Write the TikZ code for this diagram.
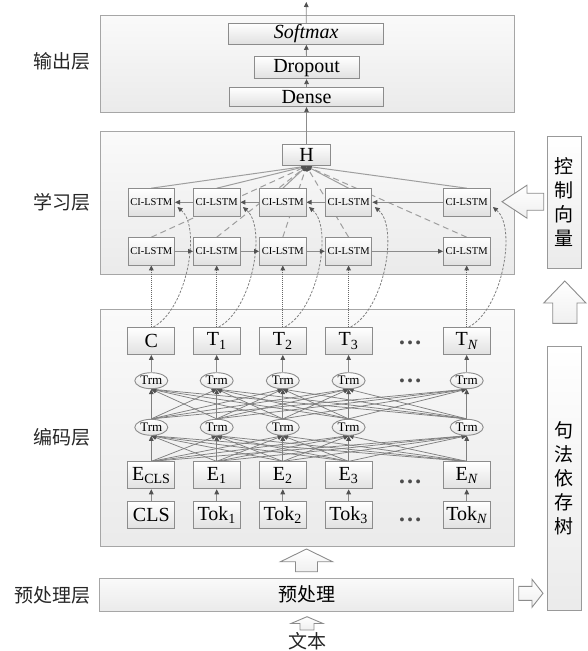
\documentclass[tikz,border=0pt]{standalone}
\usepackage{fontspec}
\setmainfont{Liberation Serif}
\newfontfamily\cjk{Noto Sans CJK SC}
\usetikzlibrary{shapes.geometric,arrows.meta}
\pgfdeclarelayer{bg}
\pgfdeclarelayer{mid}
\pgfsetlayers{bg,mid,main}
\tikzset{
  layerbox/.style={draw=black!35, line width=1pt, top color=black!2, bottom color=black!8, inner sep=0pt},
  sidebox/.style={draw=black!40, line width=1pt, top color=white, bottom color=black!8, inner sep=0pt,
     align=center, font=\cjk\fontsize{19}{24}\selectfont},
  blk/.style={draw=black!45, line width=0.9pt, top color=white, bottom color=black!12, inner sep=0pt,
     font=\fontsize{20}{20}\selectfont},
  colbox/.style={blk, minimum width=47pt, minimum height=27pt},
  lstm/.style={blk, minimum width=46.5pt, minimum height=27.3pt, font=\fontsize{10.5}{11}\selectfont},
  trm/.style={ellipse, draw=black!45, line width=0.9pt, top color=white, bottom color=black!10,
     minimum width=33pt, minimum height=16pt, inner sep=0pt, font=\fontsize{13}{13}\selectfont},
  cjklabel/.style={font=\cjk\fontsize{19}{19}\selectfont, text=black!85, inner sep=0pt},
  dotsnode/.style={anchor=base, inner sep=0pt, font=\fontsize{24}{24}\selectfont\bfseries, text=black!70},
  tipc/.tip={Triangle[length=5pt,width=4.6pt,color=black!68]},
  arr/.style={draw=black!45, line width=0.9pt, -tipc},
  conn/.style={draw=black!50, line width=0.75pt, -tipc},
  dotarr/.style={draw=black!60, line width=1pt, dash pattern=on 1pt off 1pt, -tipc},
  curv/.style={draw=black!50, line width=0.8pt, dash pattern=on 2.5pt off 1.5pt, -tipc},
  hsolid/.style={draw=black!38, line width=1pt, -tipc},
  hdash/.style={draw=black!38, line width=1pt, dash pattern=on 6pt off 4pt, -tipc},
  blockarrow/.style={draw=black!45, line width=0.9pt, top color=white, bottom color=black!6, line join=miter},
}
\begin{document}
\begin{tikzpicture}[x=1pt,y=-1pt]
\useasboundingbox (0,0) rectangle (587,651);

% layer boxes
\begin{pgfonlayer}{bg}
\node[layerbox, minimum width=414.7pt, minimum height=97.7pt] (outL) at (307.35,63.85) {};
\node[layerbox, minimum width=414pt, minimum height=143.3pt] (learnL) at (307.7,202.65) {};
\node[layerbox, minimum width=414.7pt, minimum height=236.7pt] (encL) at (307.35,427.65) {};
\end{pgfonlayer}
\node[layerbox, minimum width=414.4pt, minimum height=32.7pt, font=\cjk\fontsize{19}{19}\selectfont] (pre) at (306.5,594.65) {预处理};
\node[sidebox, minimum width=34.3pt, minimum height=131.6pt] (ctrl) at (564.15,202.5) {控\\制\\向\\量};
\node[sidebox, minimum width=34.3pt, minimum height=264pt] (dep) at (564.15,478) {句\\法\\依\\存\\树};

% side labels
\node[cjklabel] (lo) at (61.7,61) {输出层};
\node[cjklabel] (ll) at (61.7,202.7) {学习层};
\node[cjklabel] (le) at (61.7,437) {编码层};
\node[cjklabel] (lp) at (52,595) {预处理层};
\node[cjklabel] (txt) at (307,641.7) {文本};

% output layer
\node[blk, minimum width=155pt, minimum height=21pt, font=\fontsize{20}{20}\selectfont\itshape] (sm) at (306.2,33.8) {Softmax};
\node[blk, minimum width=105.3pt, minimum height=22pt] (dr) at (306.6,67.7) {Dropout};
\node[blk, minimum width=154.4pt, minimum height=19.4pt] (de) at (306.5,97) {Dense};
\coordinate (topout) at (306.3,2);

% learning layer
\node[blk, minimum width=47.6pt, minimum height=21.7pt] (H) at (306.5,154.9) {H};
\foreach \i/\x in {1/151.3,2/216.7,3/282.8,4/348.6,5/466.7}{
  \node[lstm] (La\i) at (\x,202.3) {CI-LSTM};
  \node[lstm] (Lb\i) at (\x,251.3) {CI-LSTM};
  \node[trm] (Ta\i) at (\x,380.7) {Trm};
  \node[trm] (Tb\i) at (\x,427.3) {Trm};
}
\foreach \i/\x/\t in {1/151.3/C,2/216.7/T\textsubscript{1},3/282.8/T\textsubscript{2},4/348.6/T\textsubscript{3},5/466.7/T\textsubscript{\itshape N}}{
  \node[colbox] (T\i) at (\x,341) {\t};
}
\foreach \i/\x/\t in {1/151.3/E\textsubscript{CLS},2/216.7/E\textsubscript{1},3/282.8/E\textsubscript{2},4/348.6/E\textsubscript{3},5/466.7/E\textsubscript{\itshape N}}{
  \node[colbox] (E\i) at (\x,475.3) {\t};
}
\foreach \i/\x/\t in {1/151.3/CLS,2/216.7/Tok\textsubscript{1},3/282.8/Tok\textsubscript{2},4/348.6/Tok\textsubscript{3},5/466.7/Tok\textsubscript{\itshape N}}{
  \node[colbox] (K\i) at (\x,515.3) {\t};
}
\node[dotsnode] (d1) at (410,344.5) {…};
\node[dotsnode] (d2) at (410,382.5) {…};
\node[dotsnode] (d3) at (410,483.5) {…};
\node[dotsnode] (d4) at (410,521) {…};

% connectors
\begin{pgfonlayer}{mid}
\draw[arr] (sm) -- (topout);
\draw[arr] (dr) -- (sm);
\draw[arr] (de) -- (dr);
\draw[arr] (H) -- (de);
\foreach \i in {1,...,5}{
  \draw[arr] (K\i) -- (E\i);
  \draw[arr] (Ta\i) -- (T\i);
  \draw[dotarr] (T\i) -- (Lb\i);
  \draw[hsolid] (La\i.north) -- (H.south);
  \draw[hdash] (Lb\i.north) -- (H.south);
  \draw[curv] ([xshift=2pt]T\i.north) .. controls +(34,-18) and +(24,20) .. ([xshift=2.5pt,yshift=-4.7pt]La\i.east);
  \foreach \j in {1,...,5}{
    \draw[conn] (E\i.north) -- (Tb\j.south);
    \draw[conn] (Tb\i.north) -- (Ta\j.south);
  }
}
\foreach \i/\j in {1/2,2/3,3/4,4/5}{
  \draw[arr] (Lb\i) -- (Lb\j);
  \draw[arr] (La\j) -- (La\i);
}
\end{pgfonlayer}

% block arrows
\draw[blockarrow] (502,201.7) -- (527,185.2) -- (527,193.2) -- (543.7,193.2) -- (543.7,210.2) -- (527,210.2) -- (527,218.2) -- cycle;
\draw[blockarrow] (564.8,281) -- (586,303) -- (577,303) -- (577,323.3) -- (552.7,323.3) -- (552.7,303) -- (543.7,303) -- cycle;
\draw[blockarrow] (306.5,549) -- (332.5,561.7) -- (317.5,561.7) -- (317.5,571.7) -- (295.5,571.7) -- (295.5,561.7) -- (280.5,561.7) -- cycle;
\draw[blockarrow] (543,593.3) -- (532,607.3) -- (532,600.3) -- (518.7,600.3) -- (518.7,586.3) -- (532,586.3) -- (532,579.3) -- cycle;
\draw[blockarrow] (307,616.7) -- (323,623.5) -- (314,623.5) -- (314,630) -- (300,630) -- (300,623.5) -- (291,623.5) -- cycle;
\end{tikzpicture}
\end{document}
